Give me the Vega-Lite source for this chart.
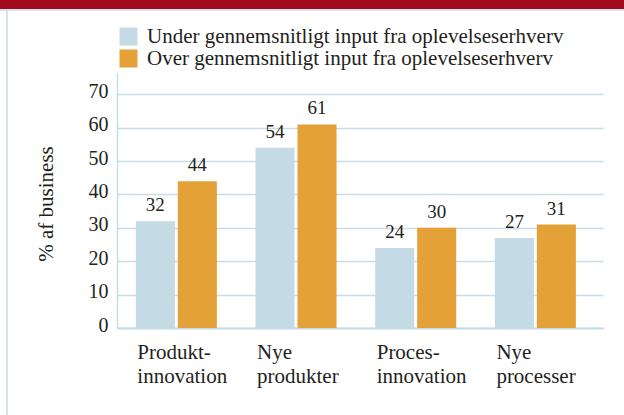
{
  "$schema": "https://vega.github.io/schema/vega-lite/v6.json",
  "padding": 0,
  "background": "white",
  "config": {
    "font": "Liberation Serif",
    "view": {"stroke": null}
  },
  "datasets": {
    "bars": [
      {"kategori": "Produkt- innovation", "gruppe": "Under gennemsnitligt input fra oplevelseserhverv", "pct": 32},
      {"kategori": "Produkt- innovation", "gruppe": "Over gennemsnitligt input fra oplevelseserhverv", "pct": 44},
      {"kategori": "Nye produkter", "gruppe": "Under gennemsnitligt input fra oplevelseserhverv", "pct": 54},
      {"kategori": "Nye produkter", "gruppe": "Over gennemsnitligt input fra oplevelseserhverv", "pct": 61},
      {"kategori": "Proces- innovation", "gruppe": "Under gennemsnitligt input fra oplevelseserhverv", "pct": 24},
      {"kategori": "Proces- innovation", "gruppe": "Over gennemsnitligt input fra oplevelseserhverv", "pct": 30},
      {"kategori": "Nye processer", "gruppe": "Under gennemsnitligt input fra oplevelseserhverv", "pct": 27},
      {"kategori": "Nye processer", "gruppe": "Over gennemsnitligt input fra oplevelseserhverv", "pct": 31}
    ]
  },
  "vconcat": [
    {
      "width": 624,
      "height": 9,
      "view": {"fill": "#a20b1e", "stroke": null},
      "data": {"values": [{}]},
      "mark": {"type": "rect", "opacity": 0},
      "encoding": {}
    },
    {
      "width": 624,
      "height": 2,
      "view": {"fill": "#d3e3ec", "stroke": null},
      "data": {"values": [{}]},
      "mark": {"type": "rect", "opacity": 0},
      "encoding": {}
    },
    {
      "hconcat": [
        {
          "width": 6,
          "height": 1,
          "data": {"values": [{}]},
          "mark": {"type": "rect", "opacity": 0},
          "encoding": {}
        },
        {
          "width": 2,
          "height": 404,
          "view": {"fill": "#d3e3ec", "stroke": null},
          "data": {"values": [{}]},
          "mark": {"type": "rect", "opacity": 0},
          "encoding": {}
        },
        {
          "width": 27,
          "height": 1,
          "data": {"values": [{}]},
          "mark": {"type": "rect", "opacity": 0},
          "encoding": {}
        },
        {
          "vconcat": [
            {
              "width": 1,
              "height": 62,
              "data": {"values": [{}]},
              "mark": {"type": "rect", "opacity": 0},
              "encoding": {}
            },
            {
              "width": 486,
              "height": 255,
              "data": {"name": "bars"},
              "encoding": {
                "x": {
                  "field": "kategori",
                  "type": "nominal",
                  "sort": null,
                  "scale": {"paddingInner": 0.323, "paddingOuter": 0.192, "align": 0.41},
                  "axis": {
                    "title": null,
                    "labelAlign": "left",
                    "labelAngle": 0,
                    "labelBaseline": "alphabetic",
                    "labelExpr": "split(datum.label, ' ')",
                    "labelFontSize": 21,
                    "labelLineHeight": 24,
                    "labelColor": "#231f20",
                    "labelPadding": 30,
                    "labelOffset": -39,
                    "labelOverlap": false,
                    "labelFlush": false,
                    "labelLimit": 200,
                    "ticks": false,
                    "tickSize": 0,
                    "domainColor": "#c5dce8",
                    "domainWidth": 2
                  }
                },
                "xOffset": {
                  "field": "gruppe",
                  "type": "nominal",
                  "sort": ["Under gennemsnitligt input fra oplevelseserhverv", "Over gennemsnitligt input fra oplevelseserhverv"],
                  "scale": {"paddingInner": 0.07, "paddingOuter": 0}
                },
                "y": {
                  "field": "pct",
                  "type": "quantitative",
                  "scale": {"domain": [0, 76.4], "nice": false, "zero": true},
                  "axis": {
                    "values": [0, 10, 20, 30, 40, 50, 60, 70],
                    "title": "% af business",
                    "titleFontSize": 21,
                    "titleFontWeight": "normal",
                    "titleColor": "#231f20",
                    "titleX": -65,
                    "titleY": 130.5,
                    "titleBaseline": "alphabetic",
                    "titleAngle": 270,
                    "labelFontSize": 20,
                    "labelColor": "#231f20",
                    "labelPadding": 9,
                    "labelOffset": -3,
                    "ticks": false,
                    "tickSize": 0,
                    "domainColor": "#c5dce8",
                    "domainWidth": 1.5,
                    "gridColor": "#c8dde8",
                    "gridWidth": 1.5
                  }
                },
                "color": {
                  "field": "gruppe",
                  "type": "nominal",
                  "scale": {
                    "domain": ["Under gennemsnitligt input fra oplevelseserhverv", "Over gennemsnitligt input fra oplevelseserhverv"],
                    "range": ["#c4dae4", "#e3a138"]
                  },
                  "legend": {
                    "title": null,
                    "orient": "none",
                    "legendX": 118,
                    "legendY": 26,
                    "padding": 0,
                    "symbolType": "square",
                    "symbolSize": 324,
                    "symbolStrokeWidth": 0,
                    "labelFontSize": 21,
                    "labelColor": "#231f20",
                    "labelOffset": 8,
                    "labelLimit": 600,
                    "rowPadding": 0
                  }
                }
              },
              "layer": [
                {"mark": {"type": "bar"}},
                {
                  "mark": {"type": "text", "baseline": "alphabetic", "dy": -10, "fontSize": 19, "color": "#231f20"},
                  "encoding": {"text": {"field": "pct", "type": "quantitative"}, "color": {"value": "#231f20"}}
                }
              ]
            }
          ],
          "spacing": 0,
          "align": "none"
        }
      ],
      "spacing": 0,
      "align": "none"
    }
  ],
  "spacing": 0,
  "align": "none"
}
